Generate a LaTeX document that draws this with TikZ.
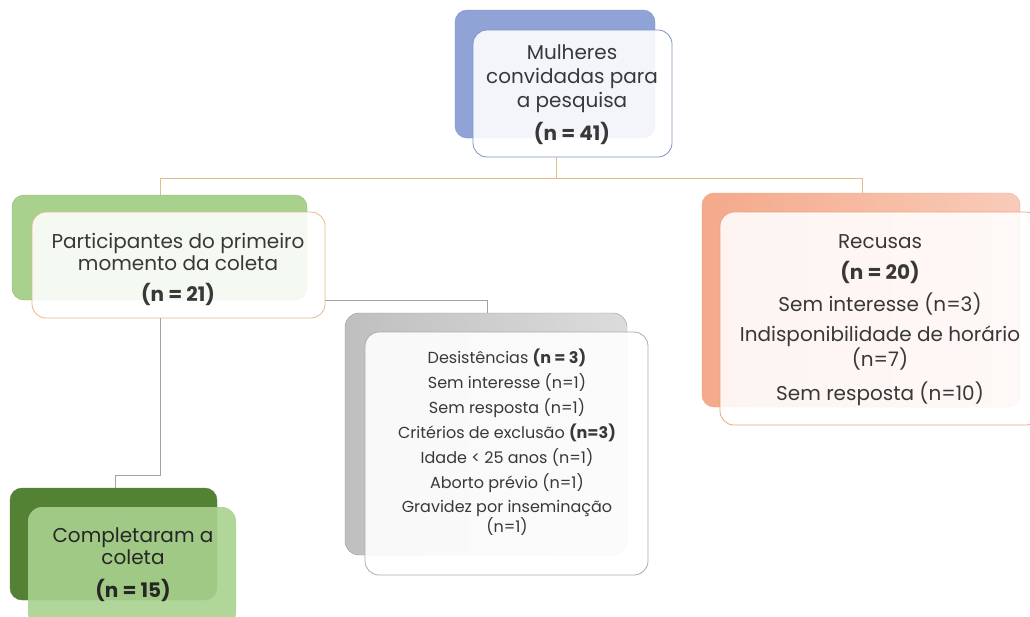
\documentclass[tikz,border=0pt]{standalone}
\usepackage{fontspec}
\setmainfont{Poppins}
\begin{document}
\begin{tikzpicture}[x=1pt,y=-1pt,
  front/.style={rounded corners=14pt, line width=0.8pt, align=center, text=black!78, inner sep=0pt},
  conn/.style={line width=0.8pt},
  lbl/.style={align=center, text=black!78, inner sep=0pt, font=\fontsize{20}{24}\selectfont},
  slbl/.style={align=center, text=black!78, inner sep=0pt, font=\fontsize{16}{25}\selectfont}
]
\useasboundingbox (0,0) rectangle (1030,616);
\definecolor{blueb}{HTML}{8FA3D6}
\definecolor{blueln}{HTML}{7F93C6}
\definecolor{greenb}{HTML}{A9D18E}
\definecolor{tan}{HTML}{E8B98A}
\definecolor{salmon}{HTML}{F4A98A}
\definecolor{salmonln}{HTML}{EBA584}
\definecolor{greyb}{HTML}{BFBFBF}
\definecolor{dkgreen}{HTML}{548235}
\definecolor{ltgreen}{HTML}{A9D18E}

% connector points
\coordinate (j1) at (556,178);
\coordinate (jl) at (160,178);
\coordinate (jr) at (862,178);
\coordinate (pl) at (160,195);
\coordinate (pr) at (862,193);
\coordinate (g1) at (487,300);
\coordinate (g2) at (487,313);
\coordinate (d1) at (160,475);
\coordinate (d2) at (115,475);
\coordinate (d3) at (115,488);

% top
\path[fill=blueb, draw=blueln, rounded corners=12pt] (455,10) rectangle (655,138);
\node[front, draw=blueln, fill=white, fill opacity=0.9, text opacity=1, minimum width=199pt, minimum height=127pt] (top) at (572.5,93.5) {};
\node[lbl] (toptxt) at (572,79) {Mulheres\\convidadas para\\a pesquisa};
\node[lbl, font=\fontsize{20}{24}\selectfont\bfseries] (topn) at (572,133) {(n = 41)};

% left green
\path[fill=greenb, draw=greenb!85!black, rounded corners=12pt] (12,195) rectangle (307,300);
\node[front, draw=tan, fill=white, fill opacity=0.88, minimum width=293pt, minimum height=106pt] (left) at (178.5,265) {};
\node[lbl, font=\fontsize{20}{22}\selectfont] (lefttxt) at (178,252) {Participantes do primeiro\\momento da coleta};
\node[lbl, font=\fontsize{20}{24}\selectfont\bfseries] (leftn) at (178,294) {(n = 21)};

% right salmon
\path[left color=salmon, right color=salmon!60!white, draw=salmonln, rounded corners=12pt] (702,193) rectangle (1020,407);
\node[front, draw=salmonln, fill=white, fill opacity=0.88, minimum width=320pt, minimum height=213pt] (right) at (880,318.5) {};
\node[lbl] (r1) at (880,242) {Recusas};
\node[lbl, font=\fontsize{20}{24}\selectfont\bfseries] (r2) at (880,272) {(n = 20)};
\node[lbl] (r3) at (880,304) {Sem interesse (n=3)};
\node[lbl, font=\fontsize{20}{20}\selectfont] (r4) at (880,348) {Indisponibilidade de horário\\(n=7)};
\node[lbl] (r5) at (880,394) {Sem resposta (n=10)};

% grey
\path[left color=greyb, right color=greyb!55!white, draw=greyb!80!black, rounded corners=14pt] (345,313) rectangle (627,555);
\node[front, draw=greyb!90!black, fill=white, fill opacity=0.9, minimum width=283pt, minimum height=243pt] (grey) at (506.5,453.5) {};
\node[slbl] (gtxt) at (507,421) {Desistências \textbf{(n = 3)}\\Sem interesse (n=1)\\Sem resposta (n=1)\\Critérios de exclusão \textbf{(n=3)}\\Idade < 25 anos (n=1)\\Aborto prévio (n=1)};
\node[slbl, font=\fontsize{16}{20}\selectfont] (gtxt2) at (507,518) {Gravidez por inseminação\\(n=1)};

% dark green
\path[fill=dkgreen, draw=dkgreen, rounded corners=12pt] (10,488) rectangle (217,600);
\node[front, fill=ltgreen, fill opacity=0.9, minimum width=208pt, minimum height=120pt] (dg) at (132,567) {};
\node[lbl, font=\fontsize{20}{22}\selectfont, text=black!85] (dgtxt) at (133,546) {Completaram a\\coleta};
\node[lbl, font=\fontsize{20}{24}\selectfont\bfseries, text=black!85] (dgn) at (133,590) {(n = 15)};

% connector lines
\draw[conn, draw=tan] (top.south -| j1) -- (j1) (jl) -- (jr) (jl) -- (pl) (jr) -- (pr);
\draw[conn, draw=greyb!85!black] (left.east |- g1) -- (g1) -- (g2);
\draw[conn, draw=greyb!85!black] (left.south -| d1) -- (d1) -- (d2) -- (d3);
\end{tikzpicture}
\end{document}
